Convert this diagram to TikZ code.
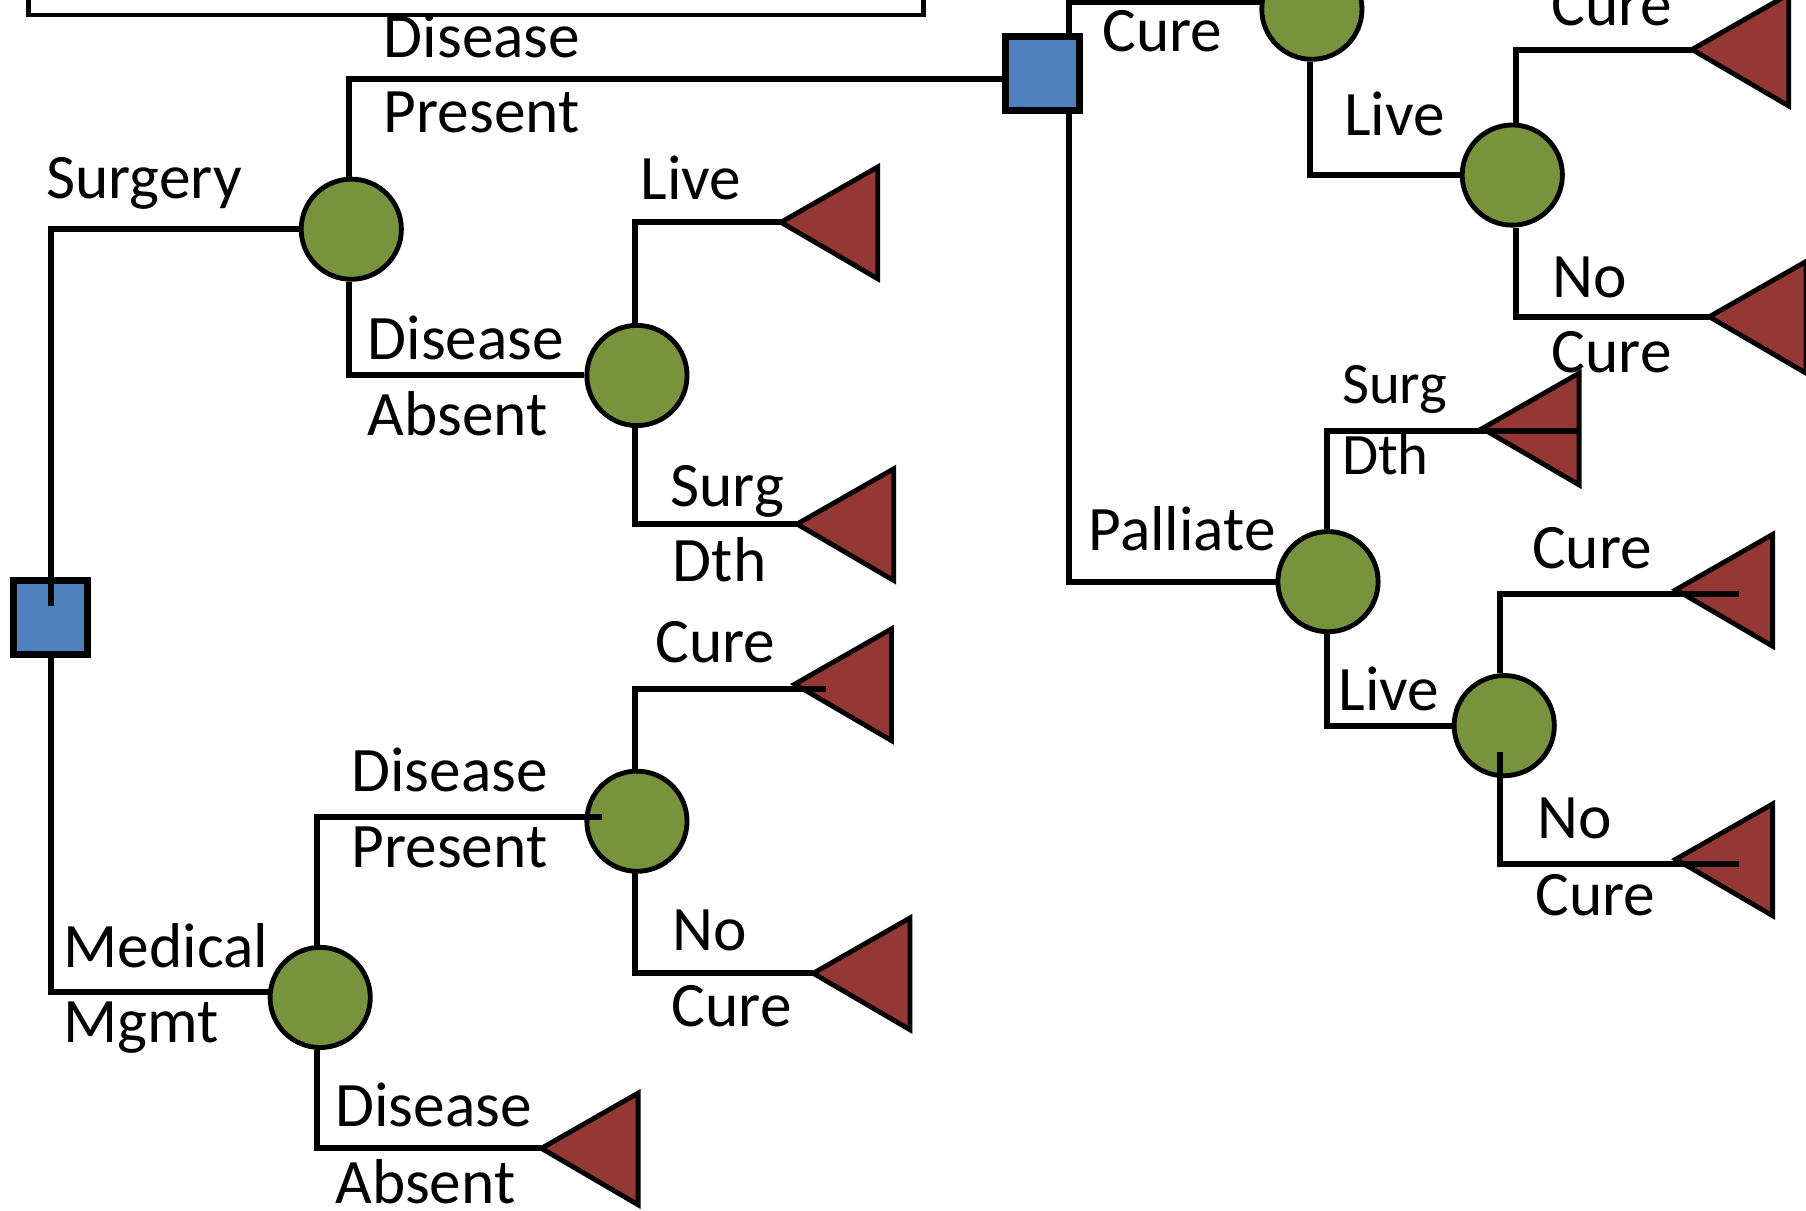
\documentclass[tikz,border=0pt]{standalone}
\usepackage{fontspec}
\setmainfont{Carlito}
\definecolor{chancegreen}{HTML}{77933C}
\definecolor{decblue}{HTML}{4F81BD}
\definecolor{termred}{HTML}{953735}
\tikzset{
 chance/.style={circle, draw=black, fill=chancegreen, line width=4.2pt, minimum size=87pt, inner sep=0pt},
 decision/.style={rectangle, draw=black, fill=decblue, line width=6pt, minimum size=64pt, inner sep=0pt},
 conn/.style={draw=black, line width=5.2pt},
 lbl/.style={inner sep=0pt, anchor=base west, font=\fontsize{55}{60}\selectfont},
 smalllbl/.style={font=\fontsize{51}{56}\selectfont},
 termtri/.style={draw=black, fill=termred, line width=4.2pt, line join=miter},
}
\newcommand\termnode[3]{\coordinate (#1) at (#2,#3);
  \draw[termtri] (#1) -- ++(84,-48) -- ++(0,97) -- cycle;}
\begin{document}
\begin{tikzpicture}[x=1pt,y=-1pt]
\useasboundingbox (0,0) rectangle (1568,1051);
\clip (0,0) rectangle (1568,1051);
\fill[white] (0,0) rectangle (1568,1051);
% top box (cut off)
\draw[line width=4.2pt] (25,-20) rectangle (802,13);
% decision nodes
\node[decision] (D1) at (44,536) {};
\node[decision] (D2) at (905,64) {};
% chance nodes
\node[chance] (C1) at (305,199) {};
\node[chance] (C2) at (553,326) {};
\node[chance] (C3) at (278,866) {};
\node[chance] (C4) at (553,713) {};
\node[chance] (C5) at (1139,8) {};
\node[chance] (C6) at (1313,152) {};
\node[chance] (C7) at (1153,505) {};
\node[chance] (C8) at (1306,630) {};
% terminal nodes
\termnode{T1}{678}{193}
\termnode{T2}{692}{455}
\termnode{T3}{690}{594}
\termnode{T4}{706}{845}
\termnode{T5}{470}{997}
\termnode{T6}{1469}{43}
\termnode{T7}{1484}{275}
\termnode{T8}{1287}{372}
\termnode{T9}{1455}{512}
\termnode{T10}{1455}{746}
% helper coordinates
\coordinate (d1in) at (44,526);
\coordinate (d2w) at (872,69);
\coordinate (d2up) at (928,29);
\coordinate (d2dn) at (928,98);
\coordinate (c3w) at (236,861);
\coordinate (c5w) at (1096,2);
\coordinate (c4in) at (523,709);
\coordinate (t3in) at (717,598);
\coordinate (c4lo) at (551,758);
\coordinate (t8in) at (1370,374);
\coordinate (t9in) at (1510,516);
\coordinate (c8lo) at (1302,653);
\coordinate (t10in) at (1510,750);
% connectors
\draw[conn] (d1in) |- (C1.west);
\draw[conn] (D1.south) |- (c3w);
\draw[conn] ([xshift=-2pt]C1.north) |- (d2w);
\draw[conn] ([xshift=-2pt]C1.south) |- (C2.west);
\draw[conn] ([xshift=-2pt]C2.north) |- (T1);
\draw[conn] ([xshift=-2pt]C2.south) |- (T2);
\draw[conn] ([xshift=-3pt]C3.north) |- (c4in);
\draw[conn] ([xshift=-3pt]C3.south) |- (T5);
\draw[conn] ([xshift=-2pt]C4.north) |- (t3in);
\draw[conn] (c4lo) |- (T4);
\draw[conn] (d2up) |- (c5w);
\draw[conn] (d2dn) |- (C7.west);
\draw[conn] ([xshift=-2pt]C5.south) |- (C6.west);
\draw[conn] ([xshift=3pt]C6.north) |- (T6);
\draw[conn] ([xshift=3pt]C6.south) |- (T7);
\draw[conn] ([xshift=-1pt]C7.north) |- (t8in);
\draw[conn] ([xshift=-1pt]C7.south) |- (C8.west);
\draw[conn] ([xshift=-4pt]C8.north) |- (t9in);
\draw[conn] (c8lo) |- (t10in);
% labels
\node[lbl] (l1) at (333,50) {Disease};
\node[lbl] (l2) at (333,115) {Present};
\node[lbl] (l3) at (40,172) {Surgery};
\node[lbl] (l4) at (319,312) {Disease};
\node[lbl] (l5) at (319,378) {Absent};
\node[lbl] (l6) at (556,173) {Live};
\node[lbl] (l7) at (582,440) {Surg};
\node[lbl] (l8) at (584,505) {Dth};
\node[lbl] (l9) at (569,575) {Cure};
\node[lbl] (l10) at (305,687) {Disease};
\node[lbl] (l11) at (305,753) {Present};
\node[lbl] (l12) at (584,825) {No};
\node[lbl] (l13) at (583,891) {Cure};
\node[lbl] (l14) at (55,840) {Medical};
\node[lbl] (l15) at (55,905) {Mgmt};
\node[lbl] (l16) at (291,978) {Disease};
\node[lbl] (l17) at (291,1045) {Absent};
\node[lbl] (l18) at (957,45) {Cure};
\node[lbl] (l19) at (1167,118) {Live};
\node[lbl] (l20) at (1347,22) {Cure};
\node[lbl] (l21) at (1348,258) {No};
\node[lbl] (l22) at (1347,323) {Cure};
\node[lbl] (l23) at (945,478) {Palliate};
\node[lbl,smalllbl] (l24) at (1165,350) {Surg};
\node[lbl,smalllbl] (l25) at (1165,412) {Dth};
\node[lbl] (l26) at (1162,617) {Live};
\node[lbl] (l27) at (1330,494) {Cure};
\node[lbl] (l28) at (1335,728) {No};
\node[lbl] (l29) at (1333,795) {Cure};
\end{tikzpicture}
\end{document}
